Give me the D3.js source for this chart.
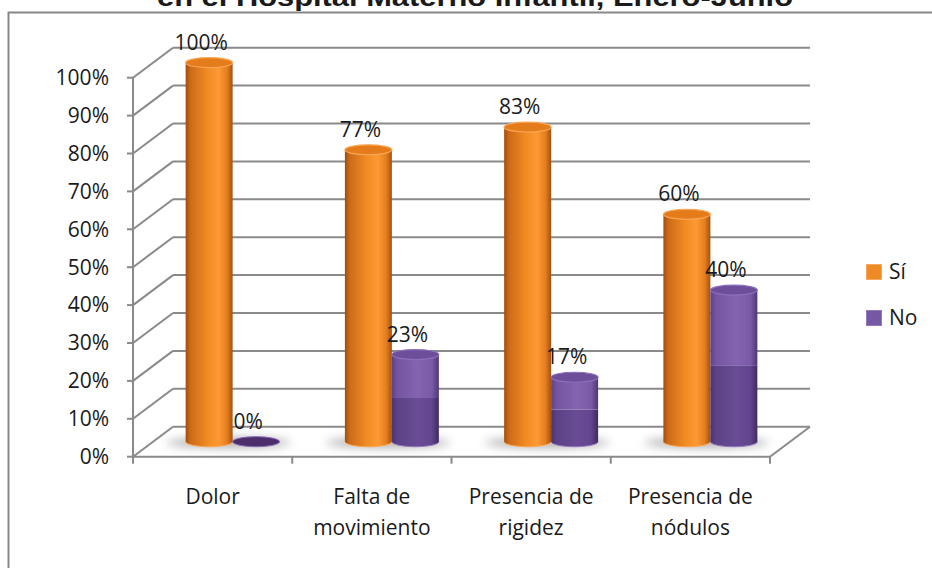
<!DOCTYPE html>
<html><head><meta charset="utf-8">
<script src="https://cdn.jsdelivr.net/npm/d3@7"></script>
<style>
html,body{margin:0;padding:0;background:#fff;}
svg{display:block;}
text{font-family:"Open Sans",Lato,sans-serif;fill:#1a1a1a;}
</style></head>
<body>
<svg id="chart" width="932" height="568"></svg>
<script>
const titleText = "en el Hospital Materno Infantil, Enero-Junio";
const categories = ["Dolor", "Falta de\nmovimiento", "Presencia de\nrigidez", "Presencia de\nnódulos"];
const seriesNames = ["Sí", "No"];
const siValues = [100, 77, 83, 60];
const noValues = [0, 23, 17, 40];
const yTicks = [0, 10, 20, 30, 40, 50, 60, 70, 80, 90, 100];

const svg = d3.select("#chart");
const W = 932, H = 568;
const FS = "21px";

// frame
svg.append("rect").attr("x", 8.5).attr("y", 12.5).attr("width", W + 10).attr("height", H + 10)
  .attr("fill", "none").attr("stroke", "#878787").attr("stroke-width", 2);

// title (only its bottom shows, as in the reference)
svg.append("text").attr("x", 475).attr("y", 6).attr("text-anchor", "middle")
  .attr("textLength", 636).attr("lengthAdjust", "spacingAndGlyphs")
  .style("font-family", "'Liberation Sans',Arial,sans-serif").style("font-weight", "bold")
  .style("font-size", "25px").text(titleText);

const defs = svg.append("defs");
function hGrad(id, stops) {
  const g = defs.append("linearGradient").attr("id", id).attr("x1", 0).attr("x2", 1).attr("y1", 0).attr("y2", 0);
  stops.forEach(s => g.append("stop").attr("offset", s[0]).attr("stop-color", s[1]));
}
hGrad("orangeBody", [[0, "#9f4d0e"], [0.1, "#cc6a18"], [0.45, "#f08a22"], [0.7, "#fd9a34"], [0.88, "#e47e1f"], [1, "#a5500f"]]);
hGrad("purpleTop", [[0, "#5e4388"], [0.12, "#7455a0"], [0.55, "#8463b0"], [0.85, "#7a5aa6"], [1, "#4f3676"]]);
hGrad("purpleBot", [[0, "#4c3372"], [0.12, "#5c4286"], [0.55, "#694c95"], [0.85, "#61458d"], [1, "#3f2a60"]]);
const blur = defs.append("filter").attr("id", "blur").attr("x", "-50%").attr("y", "-200%").attr("width", "200%").attr("height", "500%");
blur.append("feGaussianBlur").attr("stdDeviation", 5);

// scales
const x0 = 133, x1 = 770;
const depthX = 40, depthY = -30;
const y = d3.scaleLinear().domain([0, 100]).range([456.7, 77.7]);
const xCat = d3.scaleBand().domain(categories).range([x0, x1]);
const xSub = d3.scaleBand().domain(seriesNames).range([xCat.bandwidth() * 0.205, xCat.bandwidth() * 0.795]);

const grid = svg.append("g").attr("stroke", "#8a8a8a").attr("stroke-width", 2).attr("fill", "none");
yTicks.forEach(t => {
  grid.append("line").attr("x1", x0 + depthX).attr("x2", x1 + depthX)
    .attr("y1", y(t) + depthY).attr("y2", y(t) + depthY);
  grid.append("line").attr("x1", x0).attr("x2", x0 + depthX)
    .attr("y1", y(t)).attr("y2", y(t) + depthY);
  grid.append("line").attr("x1", x0 - 6).attr("x2", x0).attr("y1", y(t)).attr("y2", y(t));
});
grid.append("line").attr("x1", x1).attr("y1", y(0)).attr("x2", x1 + depthX).attr("y2", y(0) + depthY);
grid.append("line").attr("x1", x0).attr("x2", x0).attr("y1", y(0)).attr("y2", y(100));
grid.append("line").attr("x1", x0).attr("x2", x1).attr("y1", y(0)).attr("y2", y(0));
const bounds = categories.map(c => xCat(c)).concat([x1]);
bounds.forEach(bx => grid.append("line").attr("x1", bx).attr("x2", bx).attr("y1", y(0)).attr("y2", y(0) + 7));

// y labels
svg.append("g").selectAll("text").data(yTicks).join("text")
  .attr("x", 109).attr("y", d => y(d)).attr("dy", "0.35em").attr("text-anchor", "end")
  .style("font-size", FS).text(d => d + "%");

// category labels
const catG = svg.append("g");
categories.forEach(c => {
  const lines = c.split("\n");
  const t = catG.append("text").attr("text-anchor", "middle").style("font-size", FS);
  lines.forEach((ln, i) => t.append("tspan").attr("x", xCat(c) + xCat.bandwidth() / 2)
    .attr("y", 504 + i * 31).text(ln));
});

// bars
const midX = depthX / 2, midY = depthY / 2;
const rx = xSub.bandwidth() / 2, ry = 5;
const barsG = svg.append("g");
categories.forEach(c => {
  const cx = xCat(c) + xCat.bandwidth() / 2 + midX;
  barsG.append("ellipse").attr("cx", cx - 4).attr("cy", y(0) + midY + 1).attr("rx", 62).attr("ry", 5)
    .attr("fill", "#8a8a8a").attr("opacity", 0.7).attr("filter", "url(#blur)");
});
const data = [];
categories.forEach((c, i) => {
  data.push({ cat: c, s: "Sí", v: siValues[i] });
  data.push({ cat: c, s: "No", v: noValues[i] });
});
data.forEach(d => {
  const cx = xCat(d.cat) + xSub(d.s) + rx + midX;
  const yb = y(0) + midY, yt = y(d.v) + midY;
  const g = barsG.append("g");
  if (d.v === 0) {
    g.append("ellipse").attr("cx", cx).attr("cy", yb).attr("rx", rx).attr("ry", ry)
      .attr("fill", "#4a2f6c").attr("stroke", "#8a68b8").attr("stroke-width", 1);
  } else if (d.s === "Sí") {
    g.append("path").attr("d", `M${cx - rx},${yt} L${cx - rx},${yb} A${rx},${ry} 0 0 0 ${cx + rx},${yb} L${cx + rx},${yt} Z`)
      .attr("fill", "url(#orangeBody)");
    g.append("path").attr("d", `M${cx - rx},${yb} A${rx},${ry} 0 0 0 ${cx + rx},${yb}`)
      .attr("fill", "none").attr("stroke", "#ffa550").attr("stroke-width", 1);
    g.append("ellipse").attr("cx", cx).attr("cy", yt).attr("rx", rx).attr("ry", ry)
      .attr("fill", "#e57c1c").attr("stroke", "#f9a655").attr("stroke-width", 1.2);
  } else {
    const ym = (yt + yb) / 2;
    g.append("path").attr("d", `M${cx - rx},${ym} L${cx - rx},${yb} A${rx},${ry} 0 0 0 ${cx + rx},${yb} L${cx + rx},${ym} Z`)
      .attr("fill", "url(#purpleBot)");
    g.append("rect").attr("x", cx - rx).attr("y", yt).attr("width", 2 * rx).attr("height", ym - yt)
      .attr("fill", "url(#purpleTop)");
    g.append("path").attr("d", `M${cx - rx},${yb} A${rx},${ry} 0 0 0 ${cx + rx},${yb}`)
      .attr("fill", "none").attr("stroke", "#9474c0").attr("stroke-width", 1);
    g.append("ellipse").attr("cx", cx).attr("cy", yt).attr("rx", rx).attr("ry", ry)
      .attr("fill", "#6c4e99").attr("stroke", "#8f6fbd").attr("stroke-width", 1.2);
  }
  barsG.append("text").attr("x", cx - 8).attr("y", yt - 13).attr("text-anchor", "middle")
    .style("font-size", FS).text(d.v + "%");
});

// legend
const legend = svg.append("g");
const legColors = { "Sí": "#f08a24", "No": "#7657a4" };
const legStroke = { "Sí": "#f8a860", "No": "#9479c0" };
seriesNames.forEach((s, i) => {
  const ly = 264 + i * 46;
  legend.append("rect").attr("x", 866.5).attr("y", ly + 0.5).attr("width", 15).attr("height", 15)
    .attr("fill", legColors[s]).attr("stroke", legStroke[s]).attr("stroke-width", 1);
  legend.append("text").attr("x", 889).attr("y", ly + 8).attr("dy", "0.35em")
    .style("font-size", FS).text(s);
});
</script>
</body></html>
